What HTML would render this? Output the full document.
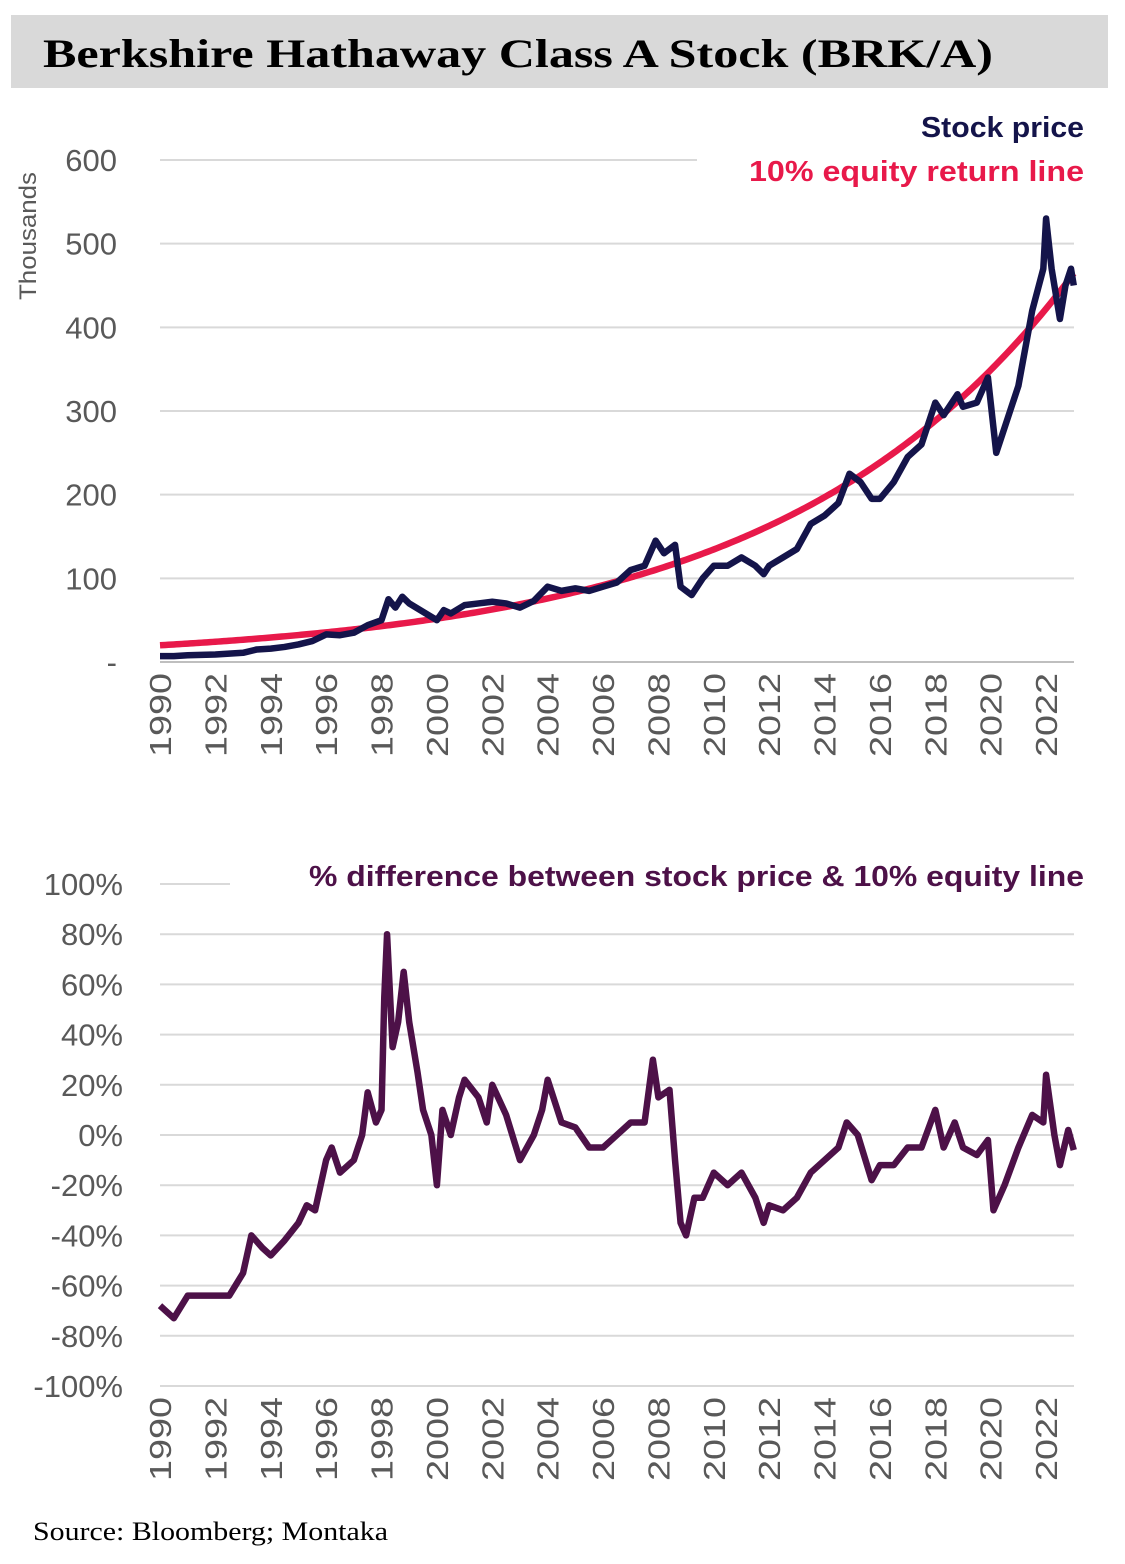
<!DOCTYPE html>
<html><head><meta charset="utf-8"><style>
body{margin:0;background:#fff;width:1125px;height:1564px;overflow:hidden}
svg{display:block}
</style></head><body>
<svg width="1125" height="1564" font-family="'Liberation Sans',sans-serif">
<rect x="11" y="15" width="1097" height="73" fill="#d9d9d9"/>
<text x="43" y="67" font-family="'Liberation Serif',serif" font-weight="bold" font-size="40" fill="#000" textLength="950" lengthAdjust="spacingAndGlyphs">Berkshire Hathaway Class A Stock (BRK/A)</text>
<g id="topg"></g>
<g id="botg"></g>
<text x="921" y="137" font-weight="bold" font-size="29" fill="#14144a" textLength="163" lengthAdjust="spacingAndGlyphs">Stock price</text>
<text x="749" y="181" font-weight="bold" font-size="29" fill="#e8194a" textLength="335" lengthAdjust="spacingAndGlyphs">10% equity return line</text>
<text x="309" y="886" font-weight="bold" font-size="29" fill="#4d1148" textLength="775" lengthAdjust="spacingAndGlyphs">% difference between stock price &amp; 10% equity line</text>
<text x="36" y="300" transform="rotate(-90 36 300)" font-size="24" fill="#595959" textLength="128" lengthAdjust="spacingAndGlyphs">Thousands</text>
<text x="33" y="1540" font-family="'Liberation Serif',serif" font-size="26" fill="#000" textLength="355" lengthAdjust="spacingAndGlyphs">Source: Bloomberg; Montaka</text>
</svg>
<script>
const priceYears=[1990,1990.5,1991,1991.5,1992,1992.5,1993,1993.5,1994,1994.5,1995,1995.5,1996,1996.5,1997,1997.5,1998,1998.25,1998.5,1998.75,1999,1999.5,2000,2000.25,2000.5,2001,2001.5,2002,2002.5,2003,2003.5,2004,2004.5,2005,2005.5,2006,2006.5,2007,2007.5,2007.9,2008.2,2008.6,2008.8,2009.2,2009.6,2010,2010.5,2011,2011.5,2011.8,2012,2012.5,2013,2013.5,2014,2014.5,2014.9,2015.3,2015.7,2016,2016.5,2017,2017.5,2018,2018.3,2018.8,2019,2019.5,2019.9,2020.2,2020.5,2021,2021.5,2021.9,2022.0,2022.2,2022.5,2022.7,2022.9,2023.0];
const priceValues=[7,7,8,8.5,9,10,11,15,16,18,21,25,33,32,35,44,50,75,65,78,70,60,50,62,58,68,70,72,70,65,73,90,85,88,85,90,95,110,115,145,130,140,90,80,100,115,115,125,115,105,115,125,135,165,175,190,225,215,195,195,215,245,260,310,295,320,305,310,340,250,280,330,420,470,530,470,410,450,470,450];
const equityBase=[20];
const equityRate=[0.10];
const diffYears=[1990,1990.5,1991,1991.5,1992,1992.5,1993,1993.3,1993.7,1994,1994.5,1995,1995.3,1995.6,1996,1996.2,1996.5,1997,1997.3,1997.5,1997.8,1998,1998.1,1998.2,1998.4,1998.6,1998.8,1999,1999.3,1999.5,1999.8,2000,2000.2,2000.5,2000.8,2001,2001.5,2001.8,2002,2002.5,2003,2003.5,2003.8,2004,2004.5,2005,2005.5,2006,2006.5,2007,2007.5,2007.8,2008,2008.4,2008.6,2008.8,2009,2009.3,2009.6,2010,2010.5,2011,2011.5,2011.8,2012,2012.5,2013,2013.5,2014,2014.5,2014.8,2015.2,2015.7,2016,2016.5,2017,2017.5,2018,2018.3,2018.7,2019,2019.5,2019.9,2020.1,2020.5,2021,2021.5,2021.9,2022.0,2022.3,2022.5,2022.8,2023.0];
const diffValues=[-68,-73,-64,-64,-64,-64,-55,-40,-45,-48,-42,-35,-28,-30,-10,-5,-15,-10,0,17,5,10,55,80,35,45,65,45,25,10,0,-20,10,0,15,22,15,5,20,8,-10,0,10,22,5,3,-5,-5,0,5,5,30,15,18,-10,-35,-40,-25,-25,-15,-20,-15,-25,-35,-28,-30,-25,-15,-10,-5,5,0,-18,-12,-12,-5,-5,10,-5,5,-5,-8,-2,-30,-20,-5,8,5,24,0,-12,2,-6];
const xTicks=[1990,1992,1994,1996,1998,2000,2002,2004,2006,2008,2010,2012,2014,2016,2018,2020,2022];
const topTicks=[0,100,200,300,400,500,600];
const botTicks=[100,80,60,40,20,0,-20,-40,-60,-80,-100];
const NS='http://www.w3.org/2000/svg';
const X=y=>160+(y-1990)*27.69;
const Yt=v=>662-v*0.8367;
const Yb=v=>1135-v*2.51;
function mk(par,tag,at){const e=document.createElementNS(NS,tag);for(const k in at)e.setAttribute(k,at[k]);par.appendChild(e);return e;}
const topG=document.getElementById('topg'),botG=document.getElementById('botg');
topTicks.forEach(v=>{
 const l=mk(topG,'line',{x1:160,x2:v===600?697:1074,y1:Yt(v),y2:Yt(v),stroke:v===0?'#bfbfbf':'#d9d9d9','stroke-width':2});
 
 
 const t=mk(topG,'text',{x:117,y:Yt(v)+11,'text-anchor':'end','font-size':31,fill:'#595959'});
 t.textContent=v===0?'-':String(v);
 
 
});
botTicks.forEach(v=>{
 const l=mk(botG,'line',{x1:160,x2:v===100?230:1074,y1:Yb(v),y2:Yb(v),stroke:'#d9d9d9','stroke-width':2});
 
 
 const t=mk(botG,'text',{x:123,y:Yb(v)+11,'text-anchor':'end','font-size':31,fill:'#595959'});
 t.textContent=v+'%';
 
 
});
function xlabels(par,y0){xTicks.forEach(yr=>{
 const x=X(yr)+11;
 const t=mk(par,'text',{x:x,y:y0,'text-anchor':'end','font-size':31,fill:'#595959',textLength:84,lengthAdjust:'spacingAndGlyphs',transform:`rotate(-90 ${x} ${y0})`});
 t.textContent=yr;
 
 
});}
xlabels(topG,673);xlabels(botG,1397);
let ep=[];for(let yr=1990;yr<=2023.01;yr+=0.1){ep.push(X(yr)+','+Yt(equityBase[0]*Math.pow(1+equityRate[0],yr-1990)));}
const eq=mk(topG,'polyline',{points:ep.join(' '),fill:'none',stroke:'#e8194a','stroke-width':6.5});


const pl=mk(topG,'polyline',{points:priceYears.map((y,i)=>X(y)+','+Yt(priceValues[i])).join(' '),fill:'none',stroke:'#14144a','stroke-width':6.5,'stroke-linejoin':'round'});


const dl=mk(botG,'polyline',{points:diffYears.map((y,i)=>X(y)+','+Yb(diffValues[i])).join(' '),fill:'none',stroke:'#4d1148','stroke-width':6.5,'stroke-linejoin':'round'});


</script>
</body></html>
